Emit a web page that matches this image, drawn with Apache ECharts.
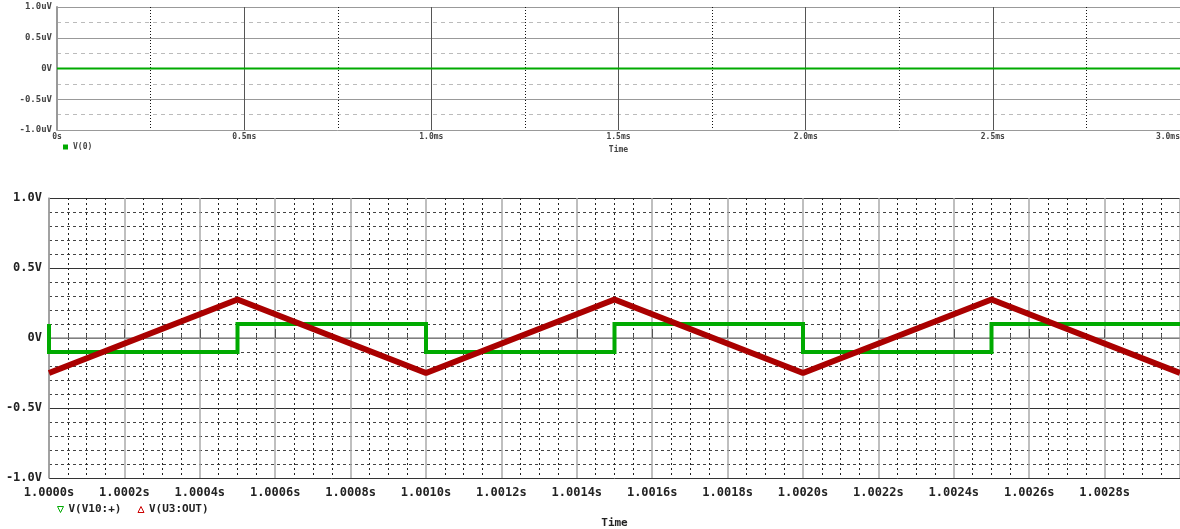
<!DOCTYPE html>
<html><head><meta charset="utf-8">
<script src="https://cdn.jsdelivr.net/npm/echarts@6/dist/echarts.min.js"></script>
<style>html,body{margin:0;padding:0;background:#fff}#c{width:1180px;height:529px}</style>
</head><body><div id="c"></div>
<script>
// Top plot: V(0), time in ms
const topTimeMs = [0, 3.0];
const topV0 = [0, 0];
const topTicksMs = [0, 0.5, 1.0, 1.5, 2.0, 2.5, 3.0];

// Bottom plot: time in microseconds (1,000,000 us = 1.0000 s)
const triTimeUs = [1000000, 1000500, 1001000, 1001500, 1002000, 1002500, 1003000];
const triV = [-0.25, 0.275, -0.25, 0.275, -0.25, 0.275, -0.25];
const sqTimeUs = [1000000, 1000000, 1000500, 1000500, 1001000, 1001000, 1001500, 1001500, 1002000, 1002000, 1002500, 1002500, 1003000];
const sqV =      [0.1, -0.1, -0.1, 0.1, 0.1, -0.1, -0.1, 0.1, 0.1, -0.1, -0.1, 0.1, 0.1];

const zip = (a, b) => a.map((x, i) => [x, b[i]]);
const mono = '"DejaVu Sans Mono", "Liberation Mono", monospace';

const chart = echarts.init(document.getElementById('c'), null, {renderer: 'canvas'});
chart.setOption({
  animation: false,
  backgroundColor: '#fff',
  grid: [
    {left: 57, right: 0, top: 7, height: 123, outerBoundsMode: 'none', containLabel: false},
    {left: 49, right: 0, top: 198, height: 280, outerBoundsMode: 'none', containLabel: false}
  ],
  legend: [
    {left: 58, top: 138, itemWidth: 5, itemHeight: 5, itemGap: 9,
     data: [{name: 'V(0)', icon: 'rect'}],
     textStyle: {fontFamily: mono, fontSize: 8, color: '#444', fontWeight: 'bold'}},
    {left: 50, top: 499, itemWidth: 6, itemHeight: 6, itemGap: 14,
     data: [
       {name: 'V(V10:+)', icon: 'path://M0,0 L10,0 L5,10 Z', itemStyle: {color: 'none', borderColor: '#00aa00', borderWidth: 1}},
       {name: 'V(U3:OUT)', icon: 'path://M5,0 L10,10 L0,10 Z', itemStyle: {color: 'none', borderColor: '#cc0000', borderWidth: 1}}
     ],
     textStyle: {fontFamily: mono, fontSize: 11, color: '#222', fontWeight: 'bold'}}
  ],
  xAxis: [
    {type: 'value', gridIndex: 0, min: 0, max: 3.0, interval: 0.5,
     name: 'Time', nameLocation: 'middle', nameGap: 16,
     nameTextStyle: {fontFamily: mono, fontSize: 8, color: '#444', fontWeight: 'bold'},
     axisLine: {lineStyle: {color: '#999', width: 1}},
     axisTick: {show: false},
     axisLabel: {fontFamily: mono, fontSize: 8, color: '#444', fontWeight: 'bold', margin: 3,
       alignMaxLabel: 'right',
       formatter: v => v === 0 ? '0s' : v.toFixed(1) + 'ms'},
     splitLine: {show: true, lineStyle: {color: '#555', width: 1}},
     minorTick: {show: false, splitNumber: 2},
     minorSplitLine: {show: true, lineStyle: {color: '#111', type: [1, 2], width: 1}}},
    {type: 'value', gridIndex: 1, min: 1000000, max: 1003000, interval: 200,
     name: 'Time', nameLocation: 'middle', nameGap: 40,
     nameTextStyle: {fontFamily: mono, fontSize: 11, color: '#222', fontWeight: 'bold'},
     axisLine: {lineStyle: {color: '#999', width: 1.5}},
     axisTick: {show: true, inside: true, length: 9, lineStyle: {color: '#555'}},
     minorTick: {show: true, splitNumber: 4, length: 4, lineStyle: {color: '#555'}},
     axisLabel: {fontFamily: mono, fontSize: 12, color: '#222', fontWeight: 'bold', margin: 9,
       showMaxLabel: false,
       formatter: v => (v / 1e6).toFixed(4) + 's'},
     splitLine: {show: true, lineStyle: {color: '#aaa', width: 1.5}},
     minorSplitLine: {show: true, lineStyle: {color: '#222', type: [2, 3], width: 1}}}
  ],
  yAxis: [
    {type: 'value', gridIndex: 0, min: -1, max: 1, interval: 0.5,
     axisLine: {show: true, lineStyle: {color: '#999', width: 2}},
     axisTick: {show: false},
     axisLabel: {fontFamily: mono, fontSize: 9, color: '#444', fontWeight: 'bold', margin: 5,
       formatter: v => v === 0 ? '0V' : v.toFixed(1) + 'uV'},
     splitLine: {show: true, lineStyle: {color: '#999', width: 1}},
     minorTick: {show: false, splitNumber: 2},
     minorSplitLine: {show: true, lineStyle: {color: '#bbb', type: [4, 4], width: 1}}},
    {type: 'value', gridIndex: 1, min: -1, max: 1, interval: 0.5,
     axisLine: {show: true, lineStyle: {color: '#999', width: 1.5}},
     axisTick: {show: false},
     axisLabel: {fontFamily: mono, fontSize: 12, color: '#222', fontWeight: 'bold', margin: 7,
       formatter: v => v === 0 ? '0V' : v.toFixed(1) + 'V'},
     splitLine: {show: true, lineStyle: {color: '#333', width: 1}},
     minorTick: {show: false, splitNumber: 5},
     minorSplitLine: {show: true, lineStyle: {color: '#444', type: [3, 3], width: 1}}}
  ],
  series: [
    {name: 'V(0)', type: 'line', xAxisIndex: 0, yAxisIndex: 0, data: zip(topTimeMs, topV0),
     showSymbol: false, lineStyle: {color: '#00aa00', width: 2}, itemStyle: {color: '#00aa00'}},
    {name: 'V(V10:+)', type: 'line', xAxisIndex: 1, yAxisIndex: 1, data: zip(sqTimeUs, sqV),
     showSymbol: false, lineStyle: {color: '#00aa00', width: 4, join: 'miter'}, itemStyle: {color: '#00aa00'}},
    {name: 'V(U3:OUT)', type: 'line', xAxisIndex: 1, yAxisIndex: 1, data: zip(triTimeUs, triV),
     showSymbol: false, lineStyle: {color: '#aa0000', width: 6}, itemStyle: {color: '#cc0000'}}
  ]
});
</script></body></html>
